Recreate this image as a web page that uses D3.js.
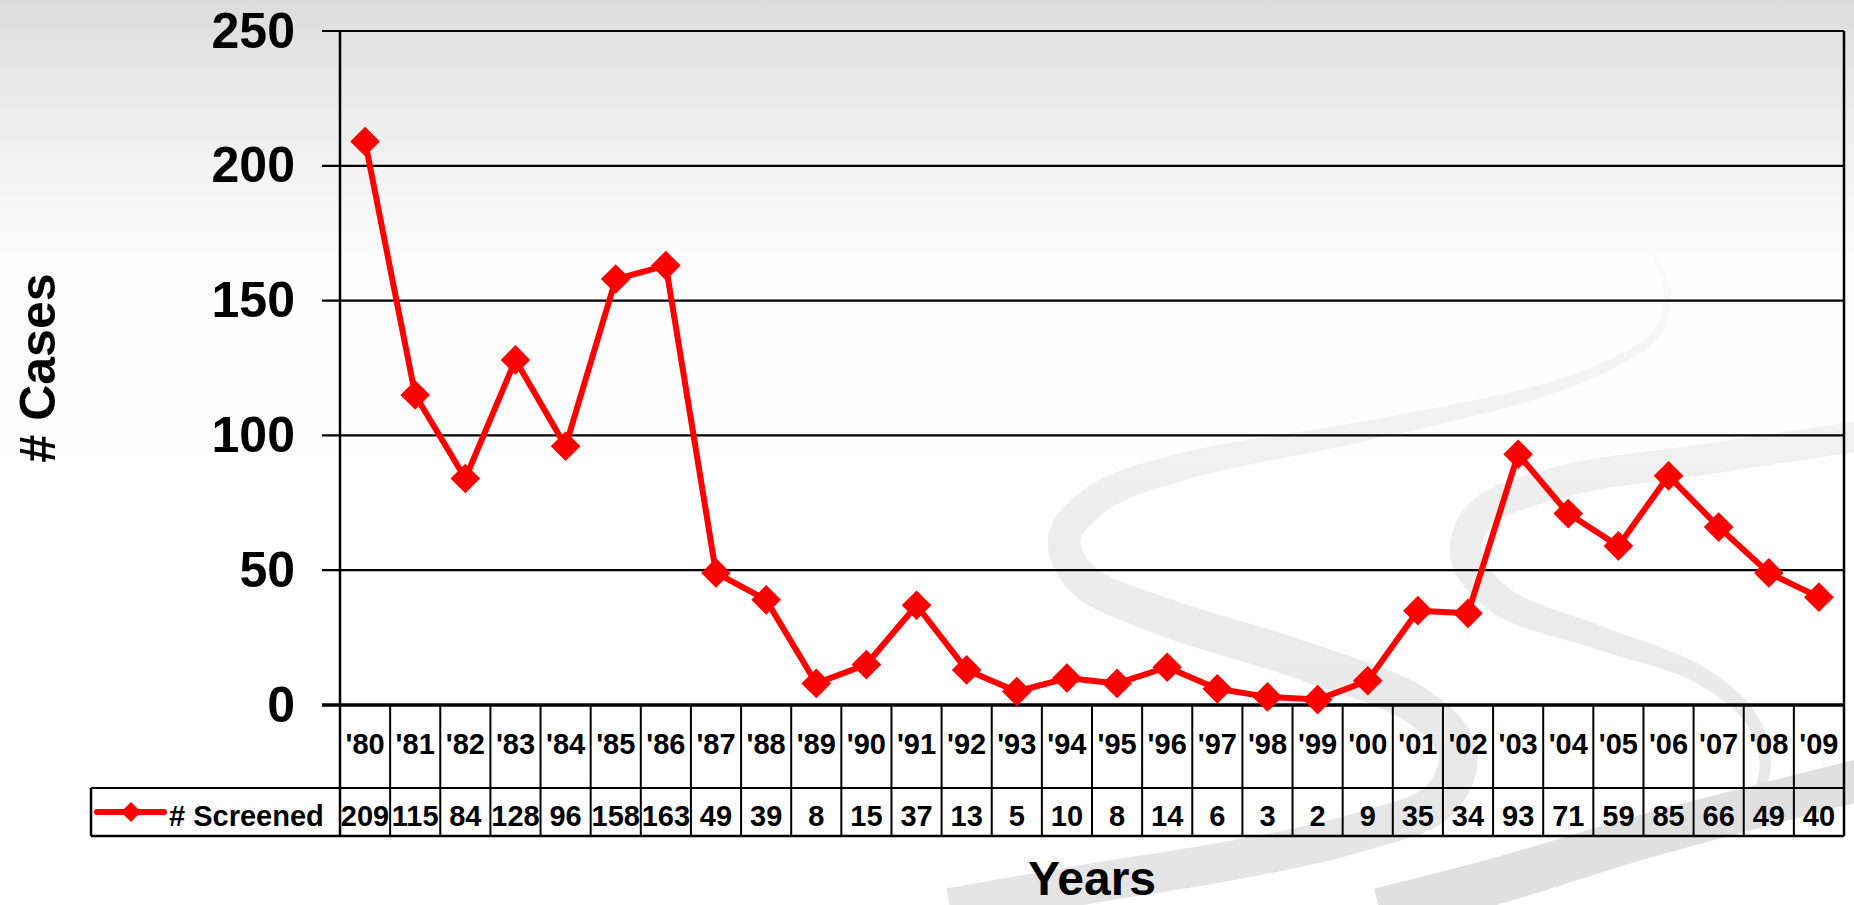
<!DOCTYPE html>
<html>
<head>
<meta charset="utf-8">
<script src="https://cdn.jsdelivr.net/npm/d3@7"></script>
<style>
  html, body { margin: 0; padding: 0; background: #fff; }
  svg { display: block; font-family: "Liberation Sans", Arial, sans-serif; font-weight: bold; }
</style>
</head>
<body>
<div id="chart"></div>
<script>
// data
const years = ["'80","'81","'82","'83","'84","'85","'86","'87","'88","'89","'90","'91","'92","'93","'94",
               "'95","'96","'97","'98","'99","'00","'01","'02","'03","'04","'05","'06","'07","'08","'09"];
const screened = [209,115,84,128,96,158,163,49,39,8,15,37,13,5,10,8,14,6,3,2,9,35,34,93,71,59,85,66,49,40];
const yTicks = [0,50,100,150,200,250];
const seriesName = "# Screened";

function drawChart() {
    const W = 1854, H = 905;
    const left = 340, right = 1844, top = 31, bottom = 705;
    const rowCat = 788, rowVal = 836, legendLeft = 91;

    const svg = d3.select("#chart").append("svg")
        .attr("width", W)
        .attr("height", H);

    const defs = svg.append("defs");
    const bg = defs.append("linearGradient").attr("id", "bg")
        .attr("x1", 0).attr("y1", 0).attr("x2", 0).attr("y2", 1);
    bg.append("stop").attr("offset", "0%").attr("stop-color", "#dcdcdc");
    bg.append("stop").attr("offset", "12%").attr("stop-color", "#ececec");
    bg.append("stop").attr("offset", "30%").attr("stop-color", "#fdfdfd");
    bg.append("stop").attr("offset", "100%").attr("stop-color", "#ffffff");

    const sw = defs.append("linearGradient").attr("id", "swoosh")
        .attr("gradientUnits", "userSpaceOnUse")
        .attr("x1", 0).attr("y1", 240).attr("x2", 0).attr("y2", 905);
    sw.append("stop").attr("offset", "0%").attr("stop-color", "#fafafa");
    sw.append("stop").attr("offset", "40%").attr("stop-color", "#eeeeee");
    sw.append("stop").attr("offset", "100%").attr("stop-color", "#e4e4e4");

    svg.append("rect").attr("width", W).attr("height", H).attr("fill", "url(#bg)");

    // background swooshes (decoration)
    const curve = d3.line().curve(d3.curveCatmullRom.alpha(0.5));
    function ribbon(pts, w0, w1, w2, fill) {
        const tmp = svg.append("path").attr("d", curve(pts)).attr("fill", "none");
        const node = tmp.node();
        const len = node.getTotalLength();
        const n = 160, a = [], b = [];
        for (let i = 0; i <= n; i++) {
            const t = i / n;
            const p = node.getPointAtLength(t * len);
            const q = node.getPointAtLength(Math.min(len, t * len + 1));
            const r = node.getPointAtLength(Math.max(0, t * len - 1));
            let dx = q.x - r.x, dy = q.y - r.y;
            const m = Math.hypot(dx, dy) || 1;
            dx /= m; dy /= m;
            const w = t < 0.5 ? w0 + (w1 - w0) * t * 2 : w1 + (w2 - w1) * (t - 0.5) * 2;
            a.push([p.x - dy * w / 2, p.y + dx * w / 2]);
            b.push([p.x + dy * w / 2, p.y - dx * w / 2]);
        }
        tmp.remove();
        svg.append("path")
            .attr("d", "M" + a.concat(b.reverse()).map(p => p.join(",")).join("L") + "Z")
            .attr("fill", fill);
    }
    ribbon([[1646,242],[1667,290],[1658,332],[1615,362],[1537,392],[1360,432],[1185,466],[1100,497],
            [1064,538],[1082,579],[1159,615],[1301,660],[1419,707],[1458,752],[1440,800],[1360,832],
            [1245,858],[1100,882],[950,908]], 4, 38, 40, "url(#swoosh)");
    ribbon([[1860,436],[1700,460],[1560,482],[1480,515],[1466,555],[1500,600],[1600,638],[1700,675],
            [1752,720],[1765,770],[1745,820]], 30, 32, 8, "url(#swoosh)");
    ribbon([[1380,912],[1500,880],[1650,835],[1860,780]], 48, 44, 42, "#e0e0e0");

    const x = d3.scaleBand().domain(years).range([left, right]).padding(0);
    const y = d3.scaleLinear().domain([0, 250]).range([bottom, top]);

    // gridlines
    svg.append("g").selectAll("line")
        .data(yTicks)
        .enter().append("line")
        .attr("x1", left - 18).attr("x2", right)
        .attr("y1", d => y(d)).attr("y2", d => y(d))
        .attr("stroke", "#000")
        .attr("stroke-width", d => d === 0 ? 3.5 : 2.2);

    // y axis labels
    const yAxis = svg.append("g")
        .attr("transform", `translate(${left},0)`)
        .call(d3.axisLeft(y).tickValues(yTicks).tickSize(18).tickPadding(27));
    yAxis.select(".domain").remove();
    yAxis.selectAll(".tick line").remove();
    yAxis.selectAll("text")
        .attr("fill", "#000")
        .style("font-size", "50px")
        .style("font-weight", "bold")
        .style("font-family", "\"Liberation Sans\", Arial, sans-serif");

    // plot frame verticals
    svg.append("line").attr("x1", left).attr("x2", left).attr("y1", top).attr("y2", rowVal)
        .attr("stroke", "#000").attr("stroke-width", 2.5);
    svg.append("line").attr("x1", right).attr("x2", right).attr("y1", top).attr("y2", rowVal)
        .attr("stroke", "#000").attr("stroke-width", 2.5);

    // data table
    const table = svg.append("g");
    table.selectAll(".colLine")
        .data(years.slice(1))
        .enter().append("line")
        .attr("x1", d => x(d)).attr("x2", d => x(d))
        .attr("y1", bottom).attr("y2", rowVal)
        .attr("stroke", "#000").attr("stroke-width", 2);
    table.append("line").attr("x1", legendLeft).attr("x2", right)
        .attr("y1", rowCat).attr("y2", rowCat).attr("stroke", "#000").attr("stroke-width", 2.2);
    table.append("line").attr("x1", legendLeft).attr("x2", right)
        .attr("y1", rowVal).attr("y2", rowVal).attr("stroke", "#000").attr("stroke-width", 2.5);
    table.append("line").attr("x1", legendLeft).attr("x2", legendLeft)
        .attr("y1", rowCat).attr("y2", rowVal).attr("stroke", "#000").attr("stroke-width", 2.5);

    table.selectAll(".cat")
        .data(years)
        .enter().append("text")
        .attr("x", d => x(d) + x.bandwidth() / 2)
        .attr("y", 754)
        .attr("text-anchor", "middle")
        .style("font-size", "29px")
        .text(d => d);

    table.selectAll(".val")
        .data(screened)
        .enter().append("text")
        .attr("x", (d, i) => x(years[i]) + x.bandwidth() / 2)
        .attr("y", 826)
        .attr("text-anchor", "middle")
        .style("font-size", "29px")
        .text(d => d);

    // legend key
    const ly = (rowCat + rowVal) / 2;
    table.append("line").attr("x1", 97).attr("x2", 164).attr("y1", ly).attr("y2", ly)
        .attr("stroke", "#ff0000").attr("stroke-width", 6).attr("stroke-linecap", "round");
    table.append("path")
        .attr("d", d3.symbol(d3.symbolSquare, 200)())
        .attr("transform", `translate(131,${ly}) rotate(45)`)
        .attr("fill", "#ff0000");
    table.append("text")
        .attr("x", 169).attr("y", 826)
        .style("font-size", "29px")
        .text(seriesName);

    // series line
    const line = d3.line()
        .x((d, i) => x(years[i]) + x.bandwidth() / 2)
        .y(d => y(d));
    svg.append("path")
        .datum(screened)
        .attr("d", line)
        .attr("fill", "none")
        .attr("stroke", "#ff0000")
        .attr("stroke-width", 6)
        .attr("stroke-linejoin", "round");

    svg.selectAll(".marker")
        .data(screened)
        .enter().append("path")
        .attr("d", d3.symbol(d3.symbolSquare, 440)())
        .attr("transform", (d, i) => `translate(${x(years[i]) + x.bandwidth() / 2},${y(d)}) rotate(45)`)
        .attr("fill", "#ff0000");

    // axis titles
    svg.append("text")
        .attr("transform", "translate(55,368) rotate(-90)")
        .attr("text-anchor", "middle")
        .style("font-size", "50px")
        .text("# Cases");
    svg.append("text")
        .attr("x", (left + right) / 2).attr("y", 895)
        .attr("text-anchor", "middle")
        .style("font-size", "48px")
        .text("Years");
}

drawChart();
</script>
</body>
</html>
